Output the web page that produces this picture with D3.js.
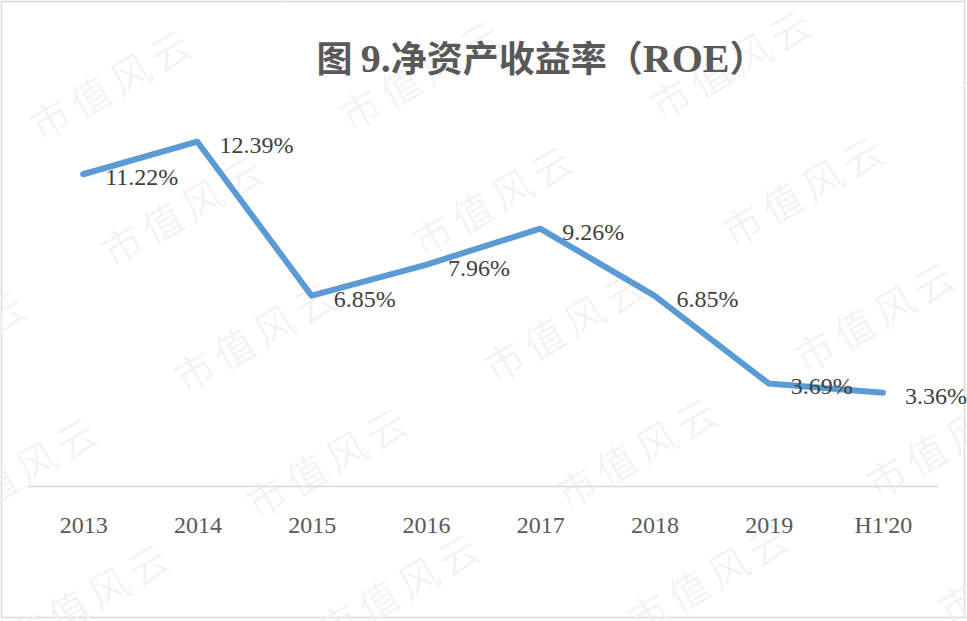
<!DOCTYPE html>
<html>
<head>
<meta charset="utf-8">
<script src="https://cdn.jsdelivr.net/npm/d3@7/dist/d3.min.js"></script>
<style>
  html, body { margin: 0; padding: 0; background: #fff; }
  svg { display: block; }
</style>
</head>
<body>
<svg id="chart"></svg>
<script>
// data
var categories = ["2013", "2014", "2015", "2016", "2017", "2018", "2019", "H1'20"];
var roeValues  = [11.22, 12.39, 6.85, 7.96, 9.26, 6.85, 3.69, 3.36];
var valueLabels = ["11.22%", "12.39%", "6.85%", "7.96%", "9.26%", "6.85%", "3.69%", "3.36%"];
// title pieces: [text, isLatin]
var titleParts = [["图 ", false], ["9.", true], ["净资产收益率（", false], ["ROE", true], ["）", false]];
var watermarkText = "市值风云";

var width = 967, height = 621;
var serif = "'Liberation Serif', 'Times New Roman', serif";
var cjk = "'Noto Sans CJK SC', sans-serif";

var svg = d3.select("#chart")
    .attr("width", width)
    .attr("height", height);

// frame
svg.append("rect")
    .attr("x", 1.5).attr("y", 1.5)
    .attr("width", 963).attr("height", 616)
    .attr("fill", "#fff")
    .attr("stroke", "#d9d9d9")
    .attr("stroke-width", 1.5);

// watermark tiles (background decoration)
var wm = svg.append("g").attr("class", "watermark");
for (var i = -1; i <= 3; i++) {
    for (var j = -1; j <= 5; j++) {
        var cx = 112 + i * 310 + j * 72;
        var cy = 82 - i * 10 + j * 126;
        if (cx < -120 || cx > 1080 || cy < -60 || cy > 680) continue;
        wm.append("text")
            .attr("transform", "translate(" + cx + "," + cy + ") rotate(-30)")
            .attr("text-anchor", "middle")
            .attr("dominant-baseline", "central")
            .attr("font-family", cjk)
            .attr("font-weight", 300)
            .attr("font-size", 40)
            .attr("letter-spacing", 6)
            .attr("fill", "#f1f1f1")
            .text(watermarkText);
    }
}

// scales
var x = d3.scalePoint()
    .domain(categories)
    .range([26, 940])
    .padding(0.5);

var y = d3.scaleLinear()
    .domain([0, 14])
    .range([486, 97]);

// x axis
var xAxis = svg.append("g")
    .attr("transform", "translate(0," + y(0) + ")")
    .call(d3.axisBottom(x).tickSize(0).tickPadding(30));
xAxis.select(".domain")
    .attr("stroke", "#d9d9d9")
    .attr("stroke-width", 1.5)
    .attr("d", "M27,0.5H938");
xAxis.selectAll("text")
    .attr("font-family", serif)
    .attr("font-size", 24)
    .attr("fill", "#595959");

// line
var line = d3.line()
    .x(function (d, i) { return x(categories[i]); })
    .y(function (d) { return y(d); });

svg.append("path")
    .datum(roeValues)
    .attr("fill", "none")
    .attr("stroke", "#5b9bd5")
    .attr("stroke-width", 6)
    .attr("stroke-linejoin", "round")
    .attr("stroke-linecap", "round")
    .attr("d", line);

// value labels
svg.append("g").selectAll("text")
    .data(roeValues)
    .enter().append("text")
    .attr("x", function (d, i) { return x(categories[i]) + 22; })
    .attr("y", function (d) { return y(d) + 11; })
    .attr("font-family", serif)
    .attr("font-size", 24)
    .attr("fill", "#404040")
    .text(function (d, i) { return valueLabels[i]; });

// title
svg.append("text")
    .attr("x", 541)
    .attr("y", 72)
    .attr("text-anchor", "middle")
    .attr("font-weight", "bold")
    .attr("font-size", 37)
    .attr("fill", "#595959")
    .selectAll("tspan")
    .data(titleParts)
    .enter().append("tspan")
    .attr("font-family", function (d) { return d[1] ? serif : cjk; })
    .attr("font-size", function (d) { return d[1] ? 40 : 36; })
    .text(function (d) { return d[0]; });
</script>
</body>
</html>
